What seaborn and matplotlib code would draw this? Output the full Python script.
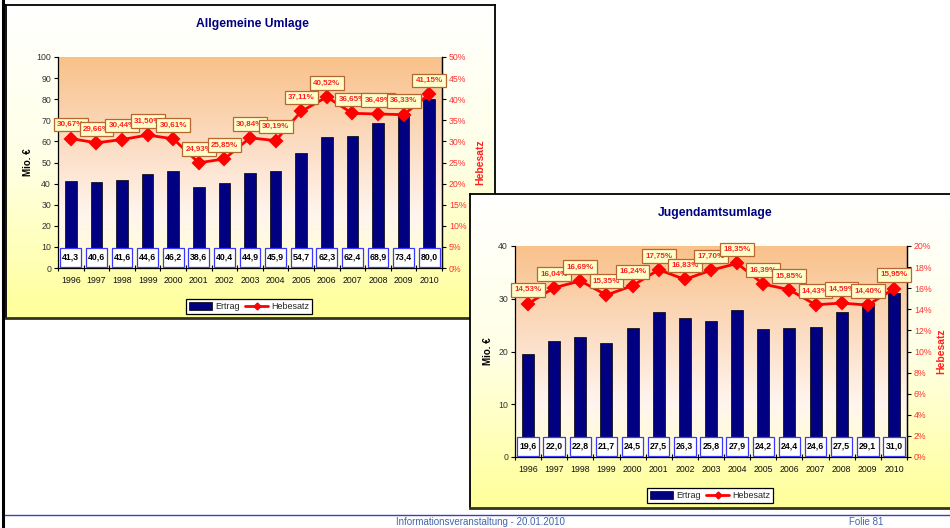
import numpy as np
import pandas as pd
import matplotlib
matplotlib.use("Agg")
import matplotlib.pyplot as plt
import seaborn as sns
from matplotlib.colors import LinearSegmentedColormap
from matplotlib.patches import Rectangle, Patch
from matplotlib.lines import Line2D
from matplotlib.ticker import MultipleLocator, FuncFormatter

# ---- data -------------------------------------------------------------
jahre = ["1996", "1997", "1998", "1999", "2000", "2001", "2002", "2003",
         "2004", "2005", "2006", "2007", "2008", "2009", "2010"]

allg_ertrag = [41.3, 40.6, 41.6, 44.6, 46.2, 38.6, 40.4, 44.9,
               45.9, 54.7, 62.3, 62.4, 68.9, 73.4, 80.0]
allg_hebesatz = [30.67, 29.66, 30.44, 31.50, 30.61, 24.93, 25.85, 30.84,
                 30.19, 37.11, 40.52, 36.65, 36.49, 36.33, 41.15]

jugend_ertrag = [19.6, 22.0, 22.8, 21.7, 24.5, 27.5, 26.3, 25.8,
                 27.9, 24.2, 24.4, 24.6, 27.5, 29.1, 31.0]
jugend_hebesatz = [14.53, 16.04, 16.69, 15.35, 16.24, 17.75, 16.83, 17.70,
                   18.35, 16.39, 15.85, 14.43, 14.59, 14.40, 15.95]

# ---- style ------------------------------------------------------------
sns.set_style("white")
plt.rcParams["font.family"] = ["Liberation Sans", "DejaVu Sans"]

W, H = 950, 528
fig = plt.figure(figsize=(W / 100, H / 100), dpi=100)
fig.patch.set_facecolor("white")

NAVY = "#000080"
RED = "#FF0000"

panel_cmap = LinearSegmentedColormap.from_list(
    "panel", ["#FFFFFF", "#FFFFE6", "#FFFF99"])
plot_cmap = LinearSegmentedColormap.from_list(
    "plotarea", [(0.0, "#F9C18A"), (0.45, "#FCDFC8"),
                 (0.75, "#FFF5EE"), (1.0, "#FFFFD2")])
grad = np.linspace(0, 1, 256).reshape(-1, 1)


def frac(x0, y0, x1, y1):
    return [x0 / W, 1 - y1 / H, (x1 - x0) / W, (y1 - y0) / H]


def de(v, nd):
    return f"{v:.{nd}f}".replace(".", ",")


def draw_chart(panel, plot, title, title_xy, ertrag, hebesatz,
               ymax, ystep, pmax, pstep, legend_xy, ylab_x, plab_x, z):
    # chart area with gradient fill and frame
    bg = fig.add_axes(frac(*panel))
    bg.set_zorder(z)
    bg.imshow(grad, cmap=panel_cmap, aspect="auto", extent=[0, 1, 0, 1])
    bg.set_xlim(0, 1)
    bg.set_ylim(0, 1)
    bg.set_xticks([])
    bg.set_yticks([])
    for s in bg.spines.values():
        s.set_color("black")
        s.set_linewidth(1.3)
    bg.spines["bottom"].set_linewidth(2.0)
    bg.spines["bottom"].set_color("#333322")
    bg.text(title_xy[0] / W, 1 - title_xy[1] / H, title,
            transform=fig.transFigure, ha="center", va="center",
            fontsize=8.7, fontweight="bold", color=NAVY)

    # plot area
    ax = fig.add_axes(frac(*plot))
    ax.set_zorder(z + 1)
    ax.patch.set_visible(False)
    ax.imshow(grad, cmap=plot_cmap, aspect="auto", extent=[0, 1, 0, 1],
              transform=ax.transAxes, zorder=0)

    df = pd.DataFrame({"Jahr": jahre, "Ertrag": ertrag, "Hebesatz": hebesatz})
    sns.barplot(data=df, x="Jahr", y="Ertrag", ax=ax, color=NAVY,
                saturation=1, width=0.46, edgecolor="black", linewidth=0.5,
                zorder=2)

    lo, hi = 0.006 * ymax, 0.097 * ymax
    for i, v in enumerate(ertrag):
        ax.add_patch(Rectangle((i - 0.41, lo), 0.82, hi - lo, fc="white",
                               ec="#3838FF", lw=0.9, zorder=3))
        ax.text(i, (lo + hi) / 2, de(v, 1), ha="center", va="center",
                fontsize=6.3, fontweight="bold", color="black", zorder=4)

    ax.set_xlim(-0.5, len(jahre) - 0.5)
    ax.set_ylim(0, ymax)
    ax.yaxis.set_major_locator(MultipleLocator(ystep))
    ax.set_xlabel("")
    ax.set_ylabel("")
    ax.tick_params(axis="y", direction="out", length=3, width=0.8,
                   color="black", labelsize=6.3, labelcolor="#333333", pad=2,
                   left=True)
    ax.tick_params(axis="x", which="major", length=0, labelsize=6.3,
                   labelcolor="#111111", pad=6)
    ax.set_xticks(np.arange(len(jahre) + 1) - 0.5, minor=True)
    ax.tick_params(axis="x", which="minor", direction="inout", length=5,
                   width=0.8, color="black", bottom=True)
    ax.spines["top"].set_visible(False)
    for side in ("left", "bottom", "right"):
        ax.spines[side].set_color("black")
        ax.spines[side].set_linewidth(0.9)

    # secondary axis: Hebesatz
    ax2 = ax.twinx()
    ax2.set_zorder(z + 2)
    sns.pointplot(data=df, x="Jahr", y="Hebesatz", ax=ax2, color=RED,
                  markers="D", markersize=6, linewidth=2, errorbar=None)
    ax2.set_xlim(-0.5, len(jahre) - 0.5)
    ax2.set_ylim(0, pmax)
    ax2.yaxis.set_major_locator(MultipleLocator(pstep))
    ax2.yaxis.set_major_formatter(FuncFormatter(lambda v, _: f"{v:.0f}%"))
    ax2.set_ylabel("")
    ax2.tick_params(axis="y", direction="out", length=3, width=0.8,
                    color="black", labelsize=6.3, labelcolor="#FF3333",
                    pad=2, right=True)
    ax2.spines["top"].set_visible(False)
    ax2.spines["left"].set_visible(False)
    ax2.spines["bottom"].set_visible(False)
    ax2.spines["right"].set_color("black")
    ax2.spines["right"].set_linewidth(0.9)

    for i, v in enumerate(hebesatz):
        ax2.annotate(de(v, 2) + "%", xy=(i, v), xytext=(0, 10),
                     textcoords="offset points", ha="center", va="center",
                     fontsize=5.8, fontweight="bold", color="#FF2020",
                     bbox=dict(boxstyle="square,pad=0.4", fc="#FFFFCC",
                               ec="#B8652F", lw=0.9),
                     zorder=5 + i * 0.01)

    mid_y = 1 - (plot[1] + plot[3]) / 2 / H
    ax.text(ylab_x / W, mid_y, "Mio. €", transform=fig.transFigure,
            rotation=90, ha="center", va="center", fontsize=7,
            fontweight="bold", color="black")
    ax2.text(plab_x / W, mid_y, "Hebesatz", transform=fig.transFigure,
             rotation=90, ha="center", va="center", fontsize=7.5,
             fontweight="bold", color="#FF2020")

    handles = [Patch(facecolor=NAVY, edgecolor="black", lw=0.5, label="Ertrag"),
               Line2D([], [], color=RED, lw=2, marker="D", markersize=3.5,
                      label="Hebesatz")]
    leg = ax2.legend(handles=handles, loc="center",
                     bbox_to_anchor=(legend_xy[0] / W, 1 - legend_xy[1] / H),
                     bbox_transform=fig.transFigure, ncol=2, fontsize=6.5,
                     frameon=True, fancybox=False, edgecolor="black",
                     framealpha=1, borderpad=0.35, handlelength=2.6,
                     handleheight=0.9, handletextpad=0.3, columnspacing=0.6,
                     borderaxespad=0)
    leg.get_frame().set_linewidth(0.9)
    leg.set_zorder(20)


draw_chart(panel=(6, 5, 495, 318), plot=(58, 57, 442, 268),
           title="Allgemeine Umlage", title_xy=(252, 24),
           ertrag=allg_ertrag, hebesatz=allg_hebesatz,
           ymax=100, ystep=10, pmax=50, pstep=5,
           legend_xy=(249, 306.5), ylab_x=28, plab_x=480, z=1)

draw_chart(panel=(470, 194, 952, 508), plot=(515, 246, 907, 457),
           title="Jugendamtsumlage", title_xy=(715, 213),
           ertrag=jugend_ertrag, hebesatz=jugend_hebesatz,
           ymax=40, ystep=10, pmax=20, pstep=2,
           legend_xy=(710, 495.5), ylab_x=488, plab_x=941, z=4)

# slide frame and footer
fig.add_artist(Line2D([3 / W, 3 / W], [0, 1], transform=fig.transFigure,
                      color="black", lw=2.2, zorder=30))
fig.add_artist(Line2D([5 / W, 1], [1 - 515 / H] * 2, transform=fig.transFigure,
                      color="#3344BB", lw=1.0, zorder=30))
fig.text(480 / W, 1 - 522 / H, "Informationsveranstaltung - 20.01.2010",
         ha="center", va="center", fontsize=7, color="#4466AA", zorder=30)
fig.text(866 / W, 1 - 522 / H, "Folie 81", ha="center", va="center",
         fontsize=7, color="#4466AA", zorder=30)

fig.savefig("out.png", dpi=100, facecolor=fig.get_facecolor())
